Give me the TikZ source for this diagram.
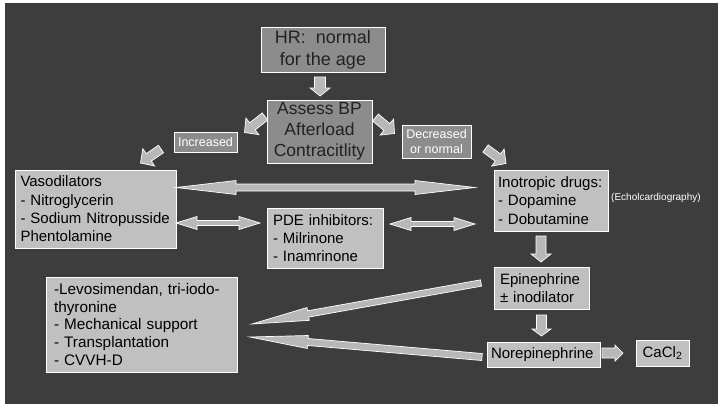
\documentclass[tikz,border=0pt]{standalone}
\usepackage{fontspec}
\setmainfont{Liberation Sans}
\usetikzlibrary{calc}
\definecolor{bg}{HTML}{3D3D3D}
\definecolor{lbox}{HTML}{C0C0C0}
\definecolor{dbox}{HTML}{8C8C8C}
\definecolor{arr}{HTML}{B8B8B8}
\definecolor{dtext}{HTML}{222222}
\tikzset{
  blk/.style={fill=arr, draw=white, line width=0.7pt, line join=miter},
  lbx/.style={draw=white, line width=0.8pt, fill=lbox, inner ysep=0pt, align=left, text=black,
              font=\fontsize{15}{18.3}\selectfont},
  dbx/.style={draw=white, line width=0.8pt, fill=dbox, inner sep=0pt, align=center},
}
% single block arrow: start, end, shaft half width, head half width, head length
\newcommand{\blkarrow}[5]{%
  \coordinate (bh) at ($(#2)!#5!(#1)$);
  \filldraw[blk] ($(#1)!#3!90:(#2)$) -- ($(bh)!#3!-90:(#1)$) -- ($(bh)!#4!-90:(#1)$) -- (#2)
    -- ($(bh)!#4!90:(#1)$) -- ($(bh)!#3!90:(#1)$) -- ($(#1)!#3!-90:(#2)$) -- cycle;}
% double block arrow
\newcommand{\dblarrow}[5]{%
  \coordinate (bha) at ($(#2)!#5!(#1)$);
  \coordinate (bhb) at ($(#1)!#5!(#2)$);
  \filldraw[blk] (#1) -- ($(bhb)!#4!90:(#2)$) -- ($(bhb)!#3!90:(#2)$) -- ($(bha)!#3!-90:(#1)$)
    -- ($(bha)!#4!-90:(#1)$) -- (#2) -- ($(bha)!#4!90:(#1)$) -- ($(bha)!#3!90:(#1)$)
    -- ($(bhb)!#3!-90:(#2)$) -- ($(bhb)!#4!-90:(#2)$) -- cycle;}
\begin{document}
\begin{tikzpicture}[x=1pt,y=-1pt]
\useasboundingbox (0,0) rectangle (720,404);
\fill[white] (0,0) rectangle (720,404);
\fill[bg] (5,3) rectangle (718,404);

% dark boxes
\node[dbx, minimum width=124pt, minimum height=45pt, text=dtext,
      font=\fontsize{18}{22}\selectfont] (hr) at (323,49.5) {HR:\ \ normal\\for the age};
\node[dbx, minimum width=105pt, minimum height=63pt, text=dtext,
      font=\fontsize{17.5}{21}\selectfont] (assess) at (319.5,131.5) {Assess BP\\Afterload\\Contracitlity};
\node[dbx, minimum width=63pt, minimum height=20pt, text=white,
      font=\fontsize{12.5}{15}\selectfont] (inc) at (205.5,142) {Increased};
\node[dbx, minimum width=69pt, minimum height=33pt, text=white,
      font=\fontsize{12.5}{15}\selectfont] (dec) at (436.5,141.5) {Decreased\\or normal};

% light boxes
\node[lbx, minimum width=161pt, minimum height=78pt, text width=150pt, inner xsep=5.5pt] (vaso) at (95.5,209)
  {Vasodilators\\- Nitroglycerin\\- Sodium Nitropusside\\Phentolamine};
\node[lbx, minimum width=116pt, minimum height=60pt, text width=104pt, inner xsep=6pt] (pde) at (325,238)
  {PDE inhibitors:\\- Milrinone\\- Inamrinone};
\node[lbx, minimum width=114pt, minimum height=61pt, text width=106pt, inner xsep=4pt] (ino) at (551,200.5)
  {Inotropic drugs:\\- Dopamine\\- Dobutamine};
\node[anchor=west, inner sep=0pt, text=white, font=\fontsize{10}{12}\selectfont] (echo) at (611,198) {(Echolcardiography)};
\node[lbx, minimum width=95pt, minimum height=42pt, text width=83pt, inner xsep=6pt] (epi) at (541.5,288)
  {Epinephrine\\± inodilator};
\node[lbx, minimum width=113pt, minimum height=25pt, text width=105pt, inner xsep=4pt] (norepi) at (543.5,354.5)
  {Norepinephrine};
\node[lbx, minimum width=53pt, minimum height=26pt, align=center, inner xsep=2pt] (cacl) at (662.5,353)
  {CaCl\textsubscript{2}};
\node[lbx, minimum width=191pt, minimum height=95pt, text width=175pt, inner xsep=8pt,
      font=\fontsize{15.3}{17.8}\selectfont] (levo) at (141.5,324.5)
  {-Levosimendan, tri-iodo-\\thyronine\\- Mechanical support\\- Transplantation\\- CVVH-D};

% arrow end points
\coordinate (a1) at (320,77);   \coordinate (a2) at (320,96);
\coordinate (b1) at (265,116.5); \coordinate (b2) at (244.5,132.5);
\coordinate (c1) at (161,149); \coordinate (c2) at (140.5,163);
\coordinate (d1) at (375.5,117.5); \coordinate (d2) at (394.5,133.5);
\coordinate (e1) at (485.5,148.5); \coordinate (e2) at (506,163.5);
\coordinate (f1) at (176,187.5); \coordinate (f2) at (475,187.5);
\coordinate (g1) at (176,223); \coordinate (g2) at (260,223);
\coordinate (h1) at (390,224); \coordinate (h2) at (475,224);
\coordinate (i1) at (541,236); \coordinate (i2) at (541,262);
\coordinate (j1) at (541.5,315); \coordinate (j2) at (541.5,336);
\coordinate (k1) at (602,353); \coordinate (k2) at (623,353);
\coordinate (l1) at (481,283); \coordinate (l2) at (252,324);
\coordinate (m1) at (482,357); \coordinate (m2) at (250,337);

\blkarrow{a1}{a2}{5.5pt}{10pt}{8pt}
\blkarrow{b1}{b2}{4.5pt}{10.5pt}{10pt}
\blkarrow{c1}{c2}{4.5pt}{10.5pt}{10pt}
\blkarrow{d1}{d2}{4.5pt}{10.5pt}{10pt}
\blkarrow{e1}{e2}{4.5pt}{10.5pt}{10pt}
\dblarrow{f1}{f2}{3.5pt}{7pt}{60pt}
\dblarrow{g1}{g2}{2.5pt}{6.5pt}{21pt}
\dblarrow{h1}{h2}{2.5pt}{6.5pt}{21pt}
\blkarrow{i1}{i2}{5pt}{10pt}{8pt}
\blkarrow{j1}{j2}{5pt}{9.5pt}{7pt}
\blkarrow{k1}{k2}{5pt}{8pt}{8pt}
\blkarrow{l1}{l2}{3.2pt}{6.5pt}{57pt}
\blkarrow{m1}{m2}{3.5pt}{6.5pt}{58pt}
\end{tikzpicture}
\end{document}
